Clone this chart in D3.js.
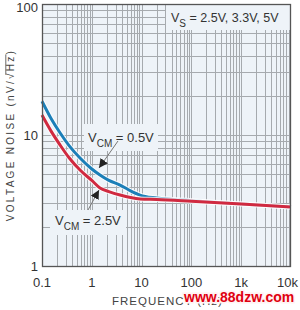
<!DOCTYPE html>
<html><head><meta charset="utf-8">
<script src="https://cdn.jsdelivr.net/npm/d3@7"></script>
<style>body{margin:0;background:#fff}svg{display:block}text{font-family:"Liberation Sans",Arial,sans-serif}</style>
</head><body><svg id="c" width="300" height="310"></svg>
<script>
const freqs = [0.1, 0.15, 0.23, 0.35, 0.58, 1.0, 1.46, 2.2, 3.7, 6, 9.3, 20, 100, 1000, 10000];
const noiseVcm05 = [18.1, 13.5, 10.4, 8.3, 6.67, 5.5, 4.95, 4.5, 4.15, 3.75, 3.48, 3.3, 3.15, 2.98, 2.82];
const noiseVcm25 = [14.2, 10.8, 8.4, 6.7, 5.4, 4.5, 3.94, 3.7, 3.48, 3.33, 3.25, 3.22, 3.12, 2.97, 2.82];
const xTicks = [0.1, 1, 10, 100, 1000, 10000];
const xTickLabels = ["0.1", "1", "10", "100", "1k", "10k"];
const yTicks = [1, 10, 100];
const yTickLabels = ["1", "10", "100"];

const svg = d3.select("#c");
const L = 42, R = 291, T = 4, B = 266;
const x = d3.scaleLog().domain([0.1, 10000]).range([L, R]);
const y = d3.scaleLog().domain([1, 100]).range([B, T]);

svg.append("rect").attr("x", L).attr("y", T).attr("width", R - L).attr("height", B - T).attr("fill", "#eef3f8");

// grid
const xGrid = [];
for (let d = -1; d < 4; d++) for (let m = 1; m <= 9; m++) xGrid.push(m * Math.pow(10, d));
const yGrid = [];
for (let d = 0; d < 2; d++) for (let m = 1; m <= 9; m++) yGrid.push(m * Math.pow(10, d));
svg.append("g").selectAll("line").data(xGrid.slice(1)).join("line")
  .attr("x1", d => Math.round(x(d)) + 0.5).attr("x2", d => Math.round(x(d)) + 0.5)
  .attr("y1", T).attr("y2", B).attr("stroke", "#a6aaae").attr("stroke-width", 1);
svg.append("g").selectAll("line").data(yGrid.slice(1)).join("line")
  .attr("y1", d => Math.round(y(d)) + 0.5).attr("y2", d => Math.round(y(d)) + 0.5)
  .attr("x1", L).attr("x2", R).attr("stroke", "#a6aaae").attr("stroke-width", 1);

// label boxes hiding grid
const bg = "#eef3f8";
svg.append("rect").attr("x", 166).attr("y", T + 1).attr("width", R - 166 - 1).attr("height", 25).attr("fill", bg);
svg.append("rect").attr("x", 84).attr("y", 124).attr("width", 74).attr("height", 27).attr("fill", bg);
svg.append("rect").attr("x", 50).attr("y", 210).attr("width", 76).attr("height", 25).attr("fill", bg);

// curves
const line = d3.line().x((d, i) => x(freqs[i])).y(d => y(d)).curve(d3.curveMonotoneX);
[[noiseVcm05, "#1c7fb8"], [noiseVcm25, "#d02a40"]].forEach(([data, col]) => {
  svg.append("path").attr("d", line(data)).attr("fill", "none").attr("stroke", "#ffffff").attr("stroke-opacity", 0.8).attr("stroke-width", 5);
  svg.append("path").attr("d", line(data)).attr("fill", "none").attr("stroke", col).attr("stroke-width", 3).attr("stroke-linejoin", "round");
});

// frame
svg.append("rect").attr("x", L + 0.5).attr("y", T + 0.5).attr("width", R - L - 1).attr("height", B - T).attr("fill", "none").attr("stroke", "#555").attr("stroke-width", 1.3);

// ticks labels
svg.append("g").selectAll("text").data(yTicks).join("text")
  .attr("x", 38).attr("y", d => Math.max(y(d) + 4.5, 12)).attr("text-anchor", "end")
  .attr("font-size", 13).attr("fill", "#333").text((d, i) => yTickLabels[i]);
svg.append("g").selectAll("text").data(xTicks).join("text")
  .attr("x", d => x(d)).attr("y", 287).attr("text-anchor", (d, i) => i === xTicks.length - 1 ? "end" : "middle")
  .attr("dx", (d, i) => i === xTicks.length - 1 ? 7 : 0)
  .attr("font-size", 13).attr("fill", "#333").text((d, i) => xTickLabels[i]);

// annotations
function vlabel(px, py, sub, rest, fs) {
  const t = svg.append("text").attr("x", px).attr("y", py).attr("font-size", fs).attr("fill", "#333");
  t.append("tspan").text("V");
  t.append("tspan").attr("font-size", 10).attr("dy", 5).text(sub);
  t.append("tspan").attr("dy", -5).text(rest);
}
vlabel(171, 22, "S", " = 2.5V, 3.3V, 5V", 12.5);
vlabel(88, 142, "CM", " = 0.5V", 13);
vlabel(55, 225, "CM", " = 2.5V", 13);

svg.append("defs").append("marker").attr("id", "ah").attr("viewBox", "0 0 10 10")
  .attr("refX", 10).attr("refY", 5).attr("markerWidth", 9).attr("markerHeight", 9)
  .attr("markerUnits", "userSpaceOnUse").attr("orient", "auto")
  .append("path").attr("d", "M0,0L10,5L0,10z").attr("fill", "#222");
svg.append("line").attr("x1", 118).attr("y1", 141).attr("x2", 99).attr("y2", 168)
  .attr("stroke", "#777").attr("stroke-width", 1).attr("marker-end", "url(#ah)");
svg.append("line").attr("x1", 88).attr("y1", 210).attr("x2", 99).attr("y2", 190)
  .attr("stroke", "#777").attr("stroke-width", 1).attr("marker-end", "url(#ah)");

// axis titles
const yg = svg.append("g").attr("transform", "translate(14,135) rotate(-90)");
const ytStr = "VOLTAGE NOISE (nV/√Hz)";
const yt = yg.append("text").attr("text-anchor", "middle")
  .attr("font-size", 10).attr("fill", "#444").attr("letter-spacing", 2.3).text(ytStr);
const node = yt.node();
const iR = ytStr.indexOf("√"), iZ = ytStr.indexOf("z");
const p0 = node.getStartPositionOfChar(iR), p1 = node.getEndPositionOfChar(iZ);
const ext = node.getExtentOfChar(iR);
yg.append("line").attr("x1", p0.x + ext.width * 0.55).attr("x2", p1.x)
  .attr("y1", ext.y + 0.8).attr("y2", ext.y + 0.8).attr("stroke", "#444").attr("stroke-width", 0.8);

svg.append("text").attr("x", 112).attr("y", 305).attr("font-size", 11.5).attr("fill", "#444")
  .attr("letter-spacing", 1).text("FREQUENCY (Hz)");
svg.append("text").attr("x", 184).attr("y", 302).attr("font-family", "DejaVu Sans Mono").attr("font-weight", "bold")
  .attr("font-size", 14).attr("fill", "#e00010").attr("stroke", "#fff3f3").attr("stroke-width", 3)
  .attr("paint-order", "stroke").text("www.88dzw.com");
</script></body></html>
